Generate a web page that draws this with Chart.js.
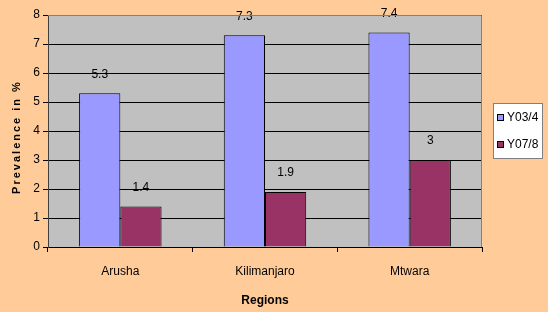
<!DOCTYPE html>
<html>
<head>
<meta charset="utf-8">
<script src="https://cdn.jsdelivr.net/npm/chart.js@4"></script>
<style>
  html, body { margin: 0; padding: 0; background: #FFCC99; }
  #wrap { width: 548px; height: 312px; }
</style>
</head>
<body>
<div id="wrap"><canvas id="chart1" width="548" height="312"></canvas></div>
<script>
const regiones = ['Arusha', 'Kilimanjaro', 'Mtwara'];
const y034 = [5.3, 7.3, 7.4];
const y078 = [1.4, 1.9, 3];
const yTicks = [0, 1, 2, 3, 4, 5, 6, 7, 8];
const seriesNames = ['Y03/4', 'Y07/8'];
const colores = ['#9999FF', '#993366'];
const fuente = 'Arial, "Liberation Sans", sans-serif';

// fondo gris del area de trazado
const plotBg = {
  id: 'plotBg',
  beforeDraw(chart) {
    const { ctx, chartArea: a } = chart;
    ctx.save();
    ctx.fillStyle = '#C0C0C0';
    ctx.fillRect(a.left, a.top, a.right - a.left, a.bottom - a.top);
    ctx.restore();
  },
  afterDraw(chart) {
    const { ctx, chartArea: a } = chart;
    ctx.save();
    // borde superior y derecho
    ctx.strokeStyle = '#808080';
    ctx.lineWidth = 1;
    ctx.beginPath();
    ctx.moveTo(a.left, a.top + 0.5);
    ctx.lineTo(a.right - 0.5, a.top + 0.5);
    ctx.lineTo(a.right - 0.5, a.bottom);
    ctx.stroke();
    // titulo del eje y con espaciado
    ctx.translate(17, 137);
    ctx.rotate(-Math.PI / 2);
    ctx.font = 'bold 11px ' + fuente;
    ctx.letterSpacing = '2px';
    ctx.fillStyle = '#000';
    ctx.textAlign = 'center';
    ctx.textBaseline = 'middle';
    ctx.fillText('Prevalence in %', 0, 0);
    ctx.restore();
  }
};

// etiquetas de valores encima de las barras
const valueLabels = {
  id: 'valueLabels',
  afterDatasetsDraw(chart) {
    const ctx = chart.ctx;
    ctx.save();
    ctx.font = '12px ' + fuente;
    ctx.fillStyle = '#000';
    ctx.textAlign = 'center';
    ctx.textBaseline = 'middle';
    chart.data.datasets.forEach((ds, i) => {
      chart.getDatasetMeta(i).data.forEach((bar, j) => {
        ctx.fillText(String(ds.data[j]), bar.x, bar.y - 19);
      });
    });
    ctx.restore();
  }
};

// leyenda en caja blanca a la derecha
const boxLegend = {
  id: 'boxLegend',
  afterDraw(chart) {
    const ctx = chart.ctx;
    ctx.save();
    ctx.fillStyle = '#FFFFFF';
    ctx.fillRect(493, 103, 50, 56);
    ctx.strokeStyle = '#808080';
    ctx.lineWidth = 1;
    ctx.strokeRect(493.5, 103.5, 49, 55);
    ctx.font = '12px ' + fuente;
    ctx.textBaseline = 'middle';
    chart.data.datasets.forEach((ds, i) => {
      const y = 118 + i * 27;
      ctx.fillStyle = ds.backgroundColor;
      ctx.fillRect(497, y - 4, 7, 7);
      ctx.strokeStyle = '#000';
      ctx.strokeRect(497.5, y - 3.5, 6, 6);
      ctx.fillStyle = '#000';
      ctx.fillText(ds.label, 507, y);
    });
    ctx.restore();
  }
};

new Chart(document.getElementById('chart1').getContext('2d'), {
  type: 'bar',
  data: {
    labels: regiones,
    datasets: [
      { label: seriesNames[0], data: y034, backgroundColor: colores[0], borderColor: '#000', borderWidth: 1 },
      { label: seriesNames[1], data: y078, backgroundColor: colores[1], borderColor: '#000', borderWidth: 1 }
    ]
  },
  options: {
    responsive: false,
    animation: false,
    layout: { padding: { top: 15, right: 66, left: 0, bottom: 0 } },
    datasets: { bar: { categoryPercentage: 0.57, barPercentage: 1 } },
    plugins: {
      legend: { display: false },
      tooltip: { enabled: false }
    },
    scales: {
      x: {
        offset: true,
        grid: { offset: true, drawOnChartArea: false, drawTicks: true, tickLength: 5, color: '#000' },
        border: { color: '#000' },
        ticks: { color: '#000', font: { family: fuente, size: 12 }, padding: 12 },
        title: { display: true, text: 'Regions', color: '#000', font: { family: fuente, size: 12, weight: 'bold' }, padding: { top: 15 } },
        afterFit(scale) { scale.height = 65; }
      },
      y: {
        min: 0,
        max: 8,
        afterBuildTicks(scale) { scale.ticks = yTicks.map(v => ({ value: v })); },
        grid: { color: '#000', tickLength: 5 },
        border: { color: '#404040' },
        ticks: { color: '#000', font: { family: fuente, size: 12 }, padding: 3 },
        afterFit(scale) { scale.width = 48; }
      }
    }
  },
  plugins: [plotBg, valueLabels, boxLegend]
});
</script>
</body>
</html>
